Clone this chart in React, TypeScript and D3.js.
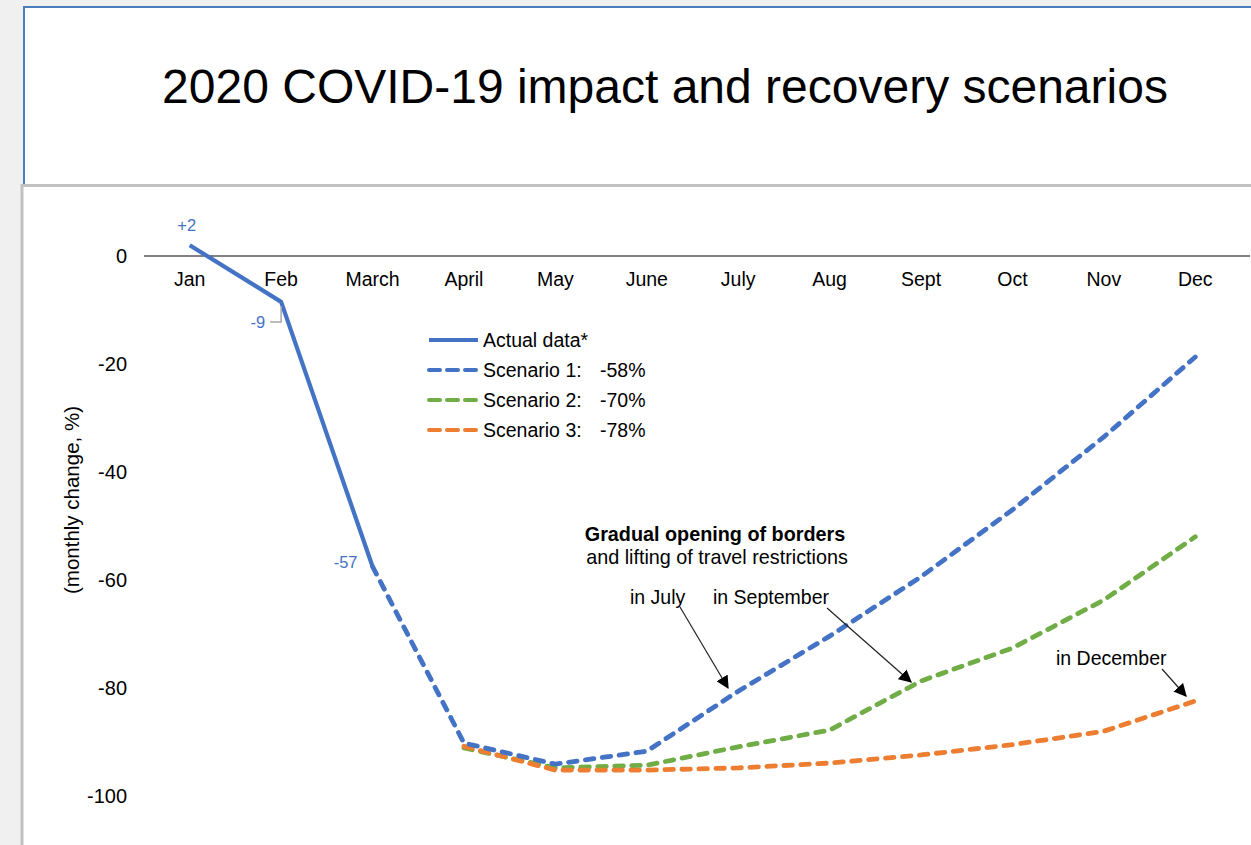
import React from "react";
import * as d3 from "d3";

const months = ["Jan", "Feb", "March", "April", "May", "June", "July", "Aug", "Sept", "Oct", "Nov", "Dec"];
const yTicks = [0, -20, -40, -60, -80, -100];

// Actual data: Jan..March
const actualMonths = ["Jan", "Feb", "March"];
const actualValues = [2, -8.5, -57.5];
const actualLabels = ["+2", "-9", "-57"];

// Scenario 1: March..Dec
const s1Months = ["March", "April", "May", "June", "July", "Aug", "Sept", "Oct", "Nov", "Dec"];
const s1Values = [-57.5, -90.2, -94.1, -91.7, -80.6, -70.4, -59.4, -47, -33.5, -18.7];

// Scenario 2 & 3: April..Dec
const s23Months = ["April", "May", "June", "July", "Aug", "Sept", "Oct", "Nov", "Dec"];
const s2Values = [-91.1, -94.8, -94.3, -90.9, -87.8, -78.7, -72.6, -63.7, -52];
const s3Values = [-90.8, -95.2, -95.2, -94.8, -93.9, -92.4, -90.5, -88, -82.4];

const legendItems = [
  { label: "Actual data*", value: "", color: "#4472C4", dashed: false },
  { label: "Scenario 1:", value: "-58%", color: "#4472C4", dashed: true },
  { label: "Scenario 2:", value: "-70%", color: "#70AD47", dashed: true },
  { label: "Scenario 3:", value: "-78%", color: "#ED7D31", dashed: true },
];

const FONT = "'Liberation Sans', Arial, Helvetica, sans-serif";
const DASH = "8.5 8.5";

export default function App() {
  const x = d3.scalePoint<string>().domain(months).range([144, 1241]).padding(0.5);
  const y = d3.scaleLinear().domain([0, -100]).range([256, 796]);

  const line = d3
    .line<[string, number]>()
    .x((d) => x(d[0]) as number)
    .y((d) => y(d[1]));

  const zip = (ms: string[], vs: number[]) => ms.map((m, i) => [m, vs[i]] as [string, number]);

  const pJan: [number, number] = [x("Jan") as number, y(actualValues[0])];
  const pFeb: [number, number] = [x("Feb") as number, y(actualValues[1])];
  const pMar: [number, number] = [x("March") as number, y(actualValues[2])];

  const arrows = [
    { x1: 680, y1: 607, x2: 728, y2: 688 },
    { x1: 827, y1: 608, x2: 911, y2: 682 },
    { x1: 1162, y1: 669, x2: 1186, y2: 696 },
  ];

  return (
    <svg
      width={1251}
      height={845}
      style={{ position: "absolute", left: 0, top: 0, fontFamily: FONT }}
    >
      <defs>
        <marker id="arrow" viewBox="0 0 10 10" refX="9" refY="5" markerWidth="13" markerHeight="13" markerUnits="userSpaceOnUse" orient="auto">
          <path d="M0,0 L10,5 L0,10 z" fill="#000" />
        </marker>
      </defs>
      <rect x={0} y={0} width={1251} height={845} fill="#f0f0f0" />
      {/* title box */}
      <rect x={24} y={7} width={1240} height={178} fill="#fff" stroke="#4a7ebb" strokeWidth={2} />
      <text x={665} y={103} textAnchor="middle" fontSize={48} fill="#000">
        2020 COVID-19 impact and recovery scenarios
      </text>
      {/* chart panel */}
      <rect x={22} y={185.5} width={1240} height={670} fill="#fff" stroke="#c2c2c2" strokeWidth={3} />

      {/* y ticks */}
      {yTicks.map((t) => (
        <text key={t} x={127} y={y(t) + 7} textAnchor="end" fontSize={20} fill="#000">
          {t}
        </text>
      ))}
      <text transform={`translate(79,500) rotate(-90)`} textAnchor="middle" fontSize={20.5} fill="#000">
        (monthly change, %)
      </text>

      {/* zero axis */}
      <line x1={144} x2={1250} y1={y(0)} y2={y(0)} stroke="#595959" strokeWidth={1.5} />
      {months.map((m) => (
        <text key={m} x={x(m)} y={286} textAnchor="middle" fontSize={19.5} fill="#000">
          {m}
        </text>
      ))}

      {/* scenario lines */}
      <path d={line(zip(s23Months, s2Values)) || ""} fill="none" stroke="#70AD47" strokeWidth={4.8} strokeDasharray={DASH} strokeLinecap="round" />
      <path d={line(zip(s23Months, s3Values)) || ""} fill="none" stroke="#ED7D31" strokeWidth={4.8} strokeDasharray={DASH} strokeLinecap="round" />
      <path d={line(zip(s1Months, s1Values)) || ""} fill="none" stroke="#4472C4" strokeWidth={4.8} strokeDasharray={DASH} strokeLinecap="round" />
      <path d={line(zip(actualMonths, actualValues)) || ""} fill="none" stroke="#4472C4" strokeWidth={4.2} strokeLinejoin="round" />

      {/* data labels */}
      <text x={pJan[0] - 3} y={pJan[1] - 14} textAnchor="middle" fontSize={16.5} fill="#4472C4">
        {actualLabels[0]}
      </text>
      <text x={pFeb[0] - 16} y={pFeb[1] + 26} textAnchor="end" fontSize={16.5} fill="#4472C4">
        {actualLabels[1]}
      </text>
      <polyline
        points={`${pFeb[0] - 11},${pFeb[1] + 20} ${pFeb[0]},${pFeb[1] + 20} ${pFeb[0]},${pFeb[1] + 4}`}
        fill="none"
        stroke="#a6a6a6"
        strokeWidth={1.5}
      />
      <text x={pMar[0] - 15} y={pMar[1] + 1} textAnchor="end" fontSize={16.5} fill="#4472C4">
        {actualLabels[2]}
      </text>

      {/* legend */}
      {legendItems.map((it, i) => {
        const ly = 340 + i * 30;
        return (
          <g key={it.label}>
            <line
              x1={429}
              x2={478}
              y1={ly}
              y2={ly}
              stroke={it.color}
              strokeWidth={4}
              strokeDasharray={it.dashed ? "11 7" : undefined}
              strokeLinecap={it.dashed ? "round" : "butt"}
            />
            <text x={483} y={ly + 7} fontSize={19.5} fill="#000">
              {it.label}
            </text>
            {it.value && (
              <text x={600} y={ly + 7} fontSize={19.5} fill="#000">
                {it.value}
              </text>
            )}
          </g>
        );
      })}

      {/* annotations */}
      <text x={715} y={541} textAnchor="middle" fontSize={19.8} fontWeight="bold" fill="#000">
        Gradual opening of borders
      </text>
      <text x={717} y={564} textAnchor="middle" fontSize={19.8} fill="#000">
        and lifting of travel restrictions
      </text>
      <text x={630} y={604} fontSize={19.5} fill="#000">in July</text>
      <text x={713} y={604} fontSize={19.5} fill="#000">in September</text>
      <text x={1056} y={665} fontSize={19.5} fill="#000">in December</text>
      {arrows.map((a, i) => (
        <line key={i} x1={a.x1} y1={a.y1} x2={a.x2} y2={a.y2} stroke="#222" strokeWidth={1.2} markerEnd="url(#arrow)" />
      ))}
    </svg>
  );
}
